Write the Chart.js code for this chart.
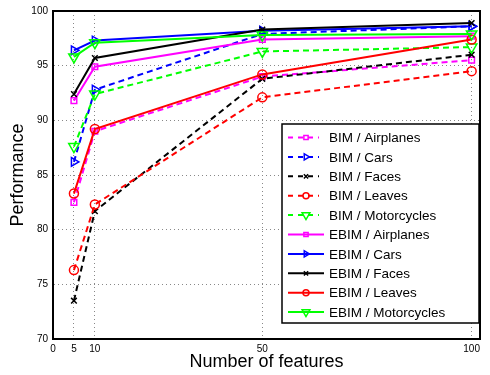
<!DOCTYPE html>
<html>
<head>
<meta charset="utf-8">
<script src="https://cdn.jsdelivr.net/npm/chart.js"></script>
<style>
  html, body { margin: 0; padding: 0; background: #fff; }
  #wrap { width: 490px; height: 375px; }
</style>
</head>
<body>
<div id="wrap"><canvas id="perfChart" width="490" height="375"></canvas></div>
<script>
// number of features on the x axis
const features = [5, 10, 50, 100];
const xTicks = [0, 5, 10, 50, 100];

// BIM (dashed) results
const bimAirplanes = [82.5, 89.0, 94.0, 95.5];
const bimCars = [86.2, 92.8, 97.9, 98.6];
const bimFaces = [73.5, 81.7, 93.8, 96.0];
const bimLeaves = [76.3, 82.3, 92.1, 94.5];
const bimMotorcycles = [87.6, 92.4, 96.3, 96.7];

// EBIM (solid) results
const ebimAirplanes = [91.8, 94.9, 97.4, 97.7];
const ebimCars = [96.4, 97.3, 98.2, 98.6];
const ebimFaces = [92.4, 95.7, 98.3, 98.9];
const ebimLeaves = [83.3, 89.2, 94.2, 97.4];
const ebimMotorcycles = [95.8, 97.1, 97.8, 97.9];

const seriesLabels = [
    'BIM / Airplanes', 'BIM / Cars', 'BIM / Faces', 'BIM / Leaves', 'BIM / Motorcycles',
    'EBIM / Airplanes', 'EBIM / Cars', 'EBIM / Faces', 'EBIM / Leaves', 'EBIM / Motorcycles',
];
const seriesValues = [
    bimAirplanes, bimCars, bimFaces, bimLeaves, bimMotorcycles,
    ebimAirplanes, ebimCars, ebimFaces, ebimLeaves, ebimMotorcycles,
];

const colors = ['#ff00ff', '#0000ff', '#000000', '#ff0000', '#00ff00'];
const markers = [
    { style: 'rect', rotation: 0, radius: 4 },
    { style: 'triangle', rotation: 90, radius: 5 },
    { style: 'crossRot', rotation: 0, radius: 4 },
    { style: 'circle', rotation: 0, radius: 4.5 },
    { style: 'triangle', rotation: 180, radius: 6 },
];
const dashPattern = [6, 4];
const FONT = '"Liberation Sans", Arial, Helvetica, sans-serif';

const datasets = seriesValues.map((values, i) => {
    const k = i % 5;
    const dashed = i < 5;
    return {
        label: seriesLabels[i],
        data: values.map((v, j) => ({ x: features[j], y: v })),
        borderColor: colors[k],
        backgroundColor: 'rgba(0,0,0,0)',
        borderWidth: 2,
        borderDash: dashed ? dashPattern : [],
        pointStyle: markers[k].style,
        pointRotation: markers[k].rotation,
        pointRadius: markers[k].radius,
        pointBorderWidth: 1.5,
        pointBorderColor: colors[k],
        pointBackgroundColor: 'rgba(0,0,0,0)',
        tension: 0,
        order: 20 - i,
    };
});

// frame on top/right plus the boxed legend, MATLAB style
const boxLegend = {
    id: 'boxLegend',
    afterDraw(chart) {
        const { ctx, chartArea } = chart;
        ctx.save();
        ctx.strokeStyle = '#000';
        ctx.lineWidth = 2;
        ctx.setLineDash([]);
        ctx.strokeRect(chartArea.left, chartArea.top, chartArea.right - chartArea.left, chartArea.bottom - chartArea.top);

        const bx = 282, by = 124, bw = 197, bh = 199;
        ctx.fillStyle = '#fff';
        ctx.fillRect(bx, by, bw, bh);
        ctx.lineWidth = 1.5;
        ctx.strokeRect(bx, by, bw, bh);

        ctx.font = '13.5px ' + FONT;
        ctx.textBaseline = 'middle';
        datasets.forEach((ds, i) => {
            const y = 137.5 + i * 19.4;
            const dashed = i < 5;
            ctx.strokeStyle = ds.borderColor;
            ctx.lineWidth = 2;
            ctx.setLineDash(dashed ? [5, 5] : []);
            ctx.beginPath();
            ctx.moveTo(288, y);
            ctx.lineTo(dashed ? 319 : 324, y);
            ctx.stroke();
            ctx.setLineDash([]);
            if (Chart.helpers && Chart.helpers.drawPoint) {
                ctx.lineWidth = 1.5;
                ctx.fillStyle = 'rgba(0,0,0,0)';
                Chart.helpers.drawPoint(ctx, {
                    pointStyle: ds.pointStyle,
                    rotation: ds.pointRotation,
                    radius: Math.max(3, ds.pointRadius - 1.5),
                    borderWidth: 1.5,
                }, 306, y);
            }
            ctx.fillStyle = '#000';
            ctx.fillText(ds.label, 329, y + 1);
        });
        ctx.restore();
    },
};

new Chart(document.getElementById('perfChart'), {
    type: 'line',
    data: { datasets },
    options: {
        responsive: false,
        animation: false,
        layout: { padding: { left: 0, top: 9, right: 10, bottom: 0 } },
        plugins: {
            legend: { display: false },
            tooltip: { enabled: false },
        },
        scales: {
            x: {
                type: 'linear',
                min: 0,
                max: 102,
                afterBuildTicks: scale => {
                    scale.ticks = xTicks.map(v => ({ value: v }));
                },
                afterFit: scale => { scale.height = 36; },
                grid: { color: '#888', lineWidth: 1, drawTicks: false },
                border: { color: '#000', width: 2, dash: [1, 3] },
                ticks: {
                    padding: 4,
                    color: '#000',
                    font: { family: FONT, size: 10 },
                    maxRotation: 0,
                    autoSkip: false,
                },
                title: {
                    display: true,
                    text: 'Number of features',
                    color: '#000',
                    font: { family: FONT, size: 18 },
                    padding: { top: 0, bottom: 2 },
                },
            },
            y: {
                min: 70,
                max: 100,
                afterFit: scale => { scale.width = 53; },
                grid: { color: '#888', lineWidth: 1, drawTicks: false },
                border: { color: '#000', width: 2, dash: [1, 3] },
                ticks: {
                    stepSize: 5,
                    padding: 5,
                    color: '#000',
                    font: { family: FONT, size: 10 },
                },
                title: {
                    display: true,
                    text: 'Performance',
                    color: '#000',
                    font: { family: FONT, size: 18 },
                    padding: { top: 7, bottom: 0 },
                },
            },
        },
    },
    plugins: [boxLegend],
});
</script>
</body>
</html>
